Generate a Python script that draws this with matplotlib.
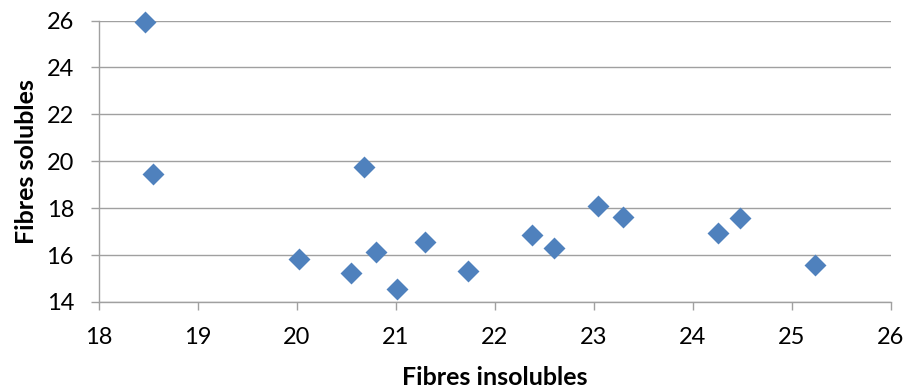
import matplotlib
matplotlib.use("Agg")
import matplotlib.pyplot as plt

insolubles = [18.46, 18.55, 20.02, 20.55, 20.68, 20.80, 21.01, 21.29, 21.73,
              22.38, 22.60, 23.04, 23.30, 24.26, 24.48, 25.24]
solubles = [25.95, 19.45, 15.83, 15.23, 19.74, 16.13, 14.55, 16.55, 15.32,
            16.85, 16.30, 18.09, 17.62, 16.94, 17.57, 15.57]
x_ticks = [18, 19, 20, 21, 22, 23, 24, 25, 26]
y_ticks = [14, 16, 18, 20, 22, 24, 26]

plt.rcParams['font.family'] = ['Lato', 'DejaVu Sans']

fig = plt.figure(figsize=(9.08, 3.89), dpi=100)
ax = fig.add_axes([99/908, 1-302/389, (890.5-99)/908, (302-20.5)/389])

ax.scatter(insolubles, solubles, marker='D', s=125, color='#4F81BD', zorder=3,
           linewidths=0, clip_on=False)

ax.set_xlim(18, 26)
ax.set_ylim(14, 26)
ax.set_xticks(x_ticks)
ax.set_yticks(y_ticks)
ax.grid(axis='y', color='#A0A0A0', linewidth=1.0)
ax.set_axisbelow(True)
for s in ['top', 'right']:
    ax.spines[s].set_visible(False)
for s in ['left', 'bottom']:
    ax.spines[s].set_color('#A0A0A0')
    ax.spines[s].set_linewidth(1.0)
ax.tick_params(axis='both', direction='out', length=6, color='#A0A0A0',
               labelsize=17, width=1.0, labelcolor='black')
ax.tick_params(axis='x', pad=12)
ax.tick_params(axis='y', pad=12)

ax.set_xlabel('Fibres insolubles', fontsize=18, fontweight='bold', labelpad=13)
ax.set_ylabel('Fibres solubles', fontsize=18, fontweight='bold', labelpad=6)

fig.savefig('out.png', dpi=100)
